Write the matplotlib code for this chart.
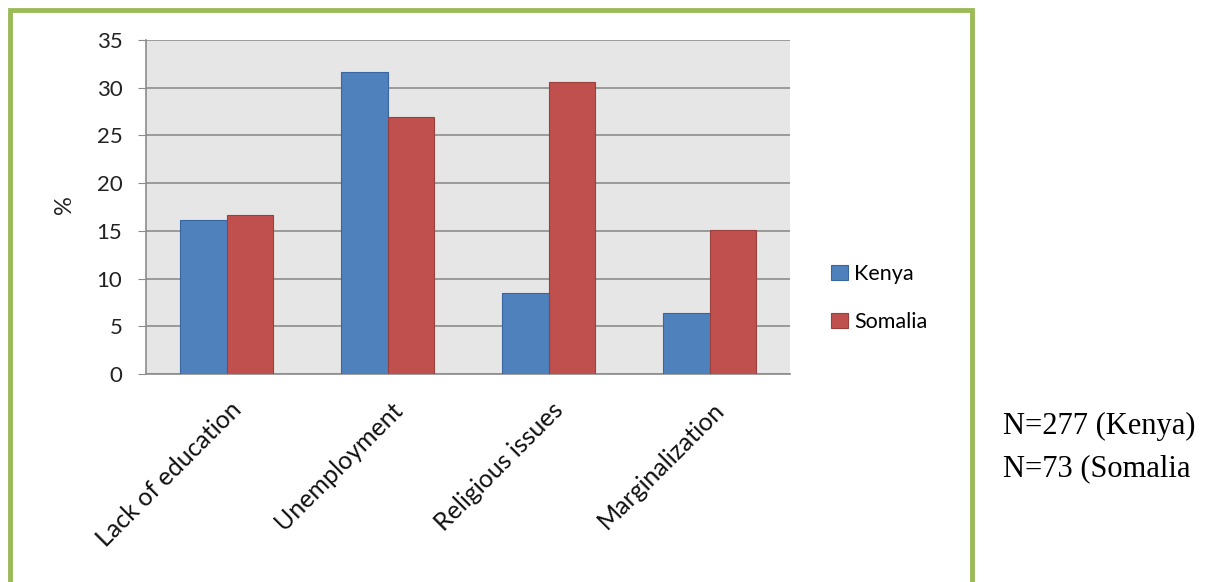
import numpy as np
import matplotlib.pyplot as plt
from matplotlib.patches import Rectangle
from matplotlib import transforms

categories = ["Lack of education", "Unemployment", "Religious issues", "Marginalization"]
kenya = [16.1, 31.6, 8.5, 6.4]
somalia = [16.7, 26.9, 30.6, 15.1]
series_names = ["Kenya", "Somalia"]
notes = ["N=277 (Kenya)", "N=73 (Somalia"]

plt.rcParams['font.family'] = ['Lato', 'DejaVu Sans']

W, H = 1221, 582
fig = plt.figure(figsize=(W / 100, H / 100), dpi=100)
ax = fig.add_axes([146 / W, 1 - 374 / H, 644 / W, 334 / H])

x = np.arange(len(categories))
bw = 0.286
ax.bar(x - bw / 2, kenya, bw, color="#4F81BD", edgecolor="#3A65A0", linewidth=0.8,
       label=series_names[0], zorder=3)
ax.bar(x + bw / 2, somalia, bw, color="#C0504D", edgecolor="#99403D", linewidth=0.8,
       label=series_names[1], zorder=3)

ax.set_xlim(-0.5, len(categories) - 0.5)
ax.set_ylim(0, 35)
ax.set_yticks(np.arange(0, 36, 5))
ax.set_facecolor("#E6E6E6")
ax.grid(axis='y', color="#8C8C8C", linewidth=1.2, zorder=1)
for s in ["top", "right"]:
    ax.spines[s].set_visible(False)
ax.spines["left"].set_color("#8C8C8C")
ax.spines["bottom"].set_color("#8C8C8C")
ax.spines["left"].set_linewidth(1.2)
ax.spines["bottom"].set_linewidth(1.2)
ax.tick_params(axis='y', length=6, color="#8C8C8C", labelsize=16, labelcolor="#222222", pad=11)
ax.tick_params(axis='x', length=0)
ax.set_xticks(x)
ax.set_xticklabels([])

offset = transforms.ScaledTranslation(0.03, -0.24, fig.dpi_scale_trans)
for i, c in enumerate(categories):
    ax.text(i, 0, c, rotation=45, ha='right', va='top', rotation_mode='anchor',
            fontsize=18, color="#111111",
            transform=transforms.blended_transform_factory(ax.transData, ax.transAxes) + offset)

ax.set_ylabel("%", fontsize=17, color="#222222")
ax.yaxis.set_label_coords(-0.11, 0.506)

ax.legend(loc='center left', bbox_to_anchor=(812 / W, 1 - 298 / H), bbox_transform=fig.transFigure,
          frameon=False, fontsize=15.5, handlelength=0.75, handleheight=0.75, handletextpad=0.3,
          labelspacing=1.3)

fig.add_artist(Rectangle((10 / W, -0.05), 962 / W, 1 - 10 / H + 0.05, transform=fig.transFigure,
                         fill=False, edgecolor="#9BBB59", linewidth=3.5))

fig.text(1003 / W, 1 - 426 / H, notes[0], family="Liberation Serif", fontsize=22, va='center')
fig.text(1003 / W, 1 - 469 / H, notes[1], family="Liberation Serif", fontsize=22, va='center')

fig.savefig("out.png", dpi=100)
